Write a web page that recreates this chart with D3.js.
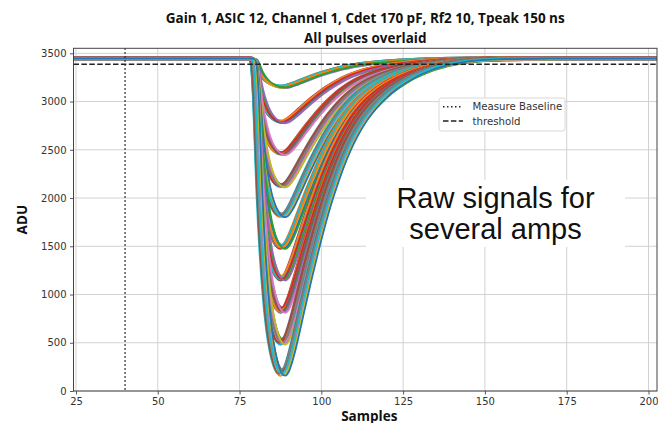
<!DOCTYPE html>
<html>
<head>
<meta charset="utf-8">
<script src="https://cdn.jsdelivr.net/npm/d3@7"></script>
<style>
  html, body { margin: 0; padding: 0; background: #fff; }
  svg { display: block; }
</style>
</head>
<body>
<svg id="chart" width="658" height="423"></svg>
<script>
// ---------------- data ----------------
const titleLines = ["Gain 1, ASIC 12, Channel 1, Cdet 170 pF, Rf2 10, Tpeak 150 ns", "All pulses overlaid"];
const xTicks = [25, 50, 75, 100, 125, 150, 175, 200];
const yTicks = [0, 500, 1000, 1500, 2000, 2500, 3000, 3500];
const xLabel = "Samples";
const yLabel = "ADU";

const baselineADU = 3446;        // flat level before / after pulse
const thresholdADU = 3386;       // dashed line
const measureBaselineSample = 40; // dotted vertical line

// normalised pulse shape (fraction of pulse depth) at sample positions
const shapeSamples = [20, 70, 78, 78.5, 79, 79.5, 80, 80.5, 81, 81.5, 82, 83, 84, 85, 86, 87, 88, 89, 90, 91, 92, 94, 96, 98, 100, 102, 104, 106, 108, 110, 113, 116, 119, 122, 125, 128, 131, 134, 137, 140, 144, 148, 155, 165, 175, 210];
const shapeValues  = [0, 0, 0, 0.002, 0.008, 0.045, 0.14, 0.28, 0.42, 0.53, 0.62, 0.76, 0.86, 0.925, 0.968, 0.993, 1.0, 0.99, 0.962, 0.925, 0.882, 0.79, 0.7, 0.615, 0.535, 0.462, 0.398, 0.34, 0.29, 0.247, 0.195, 0.155, 0.123, 0.097, 0.076, 0.058, 0.044, 0.032, 0.023, 0.016, 0.009, 0.005, 0.002, 0.001, 0, 0];

// minimum ADU reached by each amplitude group
const groupMinima = [3152, 2786, 2456, 2122, 1815, 1488, 1163, 830, 503, 184];

// per-pulse variations inside a group (timing in samples, gain, baseline ADU)
const pulseDelays = [-0.9, 0.35, -0.45, 0.8, -0.15, 0.55, -0.7, 0.1, -0.3, 0.65, -0.05, 0.95];
const pulseGains  = [1.006, 0.994, 1.01, 0.998, 1.002, 0.99, 1.004, 0.996, 0.992, 1.0, 1.003, 1.008];
const pulseBaseOffsets = [12, -8, 4, -14, 15, -3, 8, -11, 13, -6, 5, 0];

const legendItems = [
  { label: "Measure Baseline", dash: "1.5,2.5" },
  { label: "threshold", dash: "5.5,2.4" }
];
const annotationLines = ["Raw signals for", "several amps"];

const palette = ["#1f77b4", "#ff7f0e", "#2ca02c", "#d62728", "#9467bd", "#8c564b", "#e377c2", "#7f7f7f", "#bcbd22", "#17becf"];
const colorOffset = 1;

// ---------------- layout ----------------
const svg = d3.select("#chart");
const margin = { left: 73.5, right: 1, top: 48.3, bottom: 32 };
const W = 658, H = 423;
const plotL = margin.left, plotR = W - margin.right, plotT = margin.top, plotB = H - margin.bottom;

const x = d3.scaleLinear().domain([24.24, 202.6]).range([plotL, plotR]);
const y = d3.scaleLinear().domain([0, 3552]).range([plotB, plotT]);

const tickFont = "'DejaVu Sans', sans-serif";
const boldFont = "'Open Sans', 'Noto Sans', sans-serif";

// grid
const grid = svg.append("g");
grid.selectAll(".gx").data(xTicks).enter().append("line")
  .attr("x1", d => x(d)).attr("x2", d => x(d))
  .attr("y1", plotT).attr("y2", plotB)
  .attr("stroke", "#d2d2d2").attr("stroke-width", 1);
grid.selectAll(".gy").data(yTicks).enter().append("line")
  .attr("x1", plotL).attr("x2", plotR)
  .attr("y1", d => y(d)).attr("y2", d => y(d))
  .attr("stroke", "#d2d2d2").attr("stroke-width", 1);

// clip
svg.append("clipPath").attr("id", "clip").append("rect")
  .attr("x", plotL).attr("y", plotT).attr("width", plotR - plotL).attr("height", plotB - plotT);

// pulses
const line = d3.line().x(d => x(d[0])).y(d => y(d[1])).curve(d3.curveMonotoneX);
const pulses = [];
groupMinima.forEach((minADU, g) => {
  pulseDelays.forEach((delay, k) => {
    const base = baselineADU + pulseBaseOffsets[k];
    const depth = (baselineADU - minADU) * pulseGains[k];
    pulses.push(shapeSamples.map((s, i) => [s + delay, base - depth * shapeValues[i]]));
  });
});
const pg = svg.append("g").attr("clip-path", "url(#clip)");
pg.selectAll("path").data(pulses).enter().append("path")
  .attr("d", line)
  .attr("fill", "none")
  .attr("stroke", (d, i) => palette[(i + colorOffset) % palette.length])
  .attr("stroke-width", 1.7)
  .attr("stroke-linejoin", "round");

// reference lines
const refs = svg.append("g").attr("clip-path", "url(#clip)");
refs.append("line")
  .attr("x1", x(measureBaselineSample)).attr("x2", x(measureBaselineSample))
  .attr("y1", plotT).attr("y2", plotB)
  .attr("stroke", "#222").attr("stroke-width", 1.5).attr("stroke-dasharray", legendItems[0].dash);
refs.append("line")
  .attr("x1", plotL).attr("x2", plotR)
  .attr("y1", y(thresholdADU)).attr("y2", y(thresholdADU))
  .attr("stroke", "#222").attr("stroke-width", 1.5).attr("stroke-dasharray", legendItems[1].dash);

// axes
const xAxis = d3.axisBottom(x).tickValues(xTicks).tickSize(3.5).tickPadding(3.5).tickFormat(d3.format("d"));
const yAxis = d3.axisLeft(y).tickValues(yTicks).tickSize(3.5).tickPadding(3.5).tickFormat(d3.format("d"));
const gx = svg.append("g").attr("transform", `translate(0,${plotB})`).call(xAxis);
const gy = svg.append("g").attr("transform", `translate(${plotL},0)`).call(yAxis);
[gx, gy].forEach(g => {
  g.select(".domain").remove();
  g.selectAll(".tick line").attr("stroke", "#444").attr("stroke-width", 0.9);
  g.selectAll(".tick text").attr("fill", "#333").style("font-family", tickFont).style("font-size", "10px");
});

// frame
svg.append("rect").attr("x", plotL).attr("y", plotT)
  .attr("width", plotR - plotL).attr("height", plotB - plotT)
  .attr("fill", "none").attr("stroke", "#444").attr("stroke-width", 1);

// legend
const lg = svg.append("g").attr("transform", "translate(439,98)");
lg.append("rect").attr("width", 126).attr("height", 33).attr("rx", 2.5)
  .attr("fill", "rgba(255,255,255,0.85)").attr("stroke", "#d8d8d8").attr("stroke-width", 1);
legendItems.forEach((it, i) => {
  const yy = 8.7 + i * 14.3;
  lg.append("line").attr("x1", 4).attr("x2", 24).attr("y1", yy).attr("y2", yy)
    .attr("stroke", "#222").attr("stroke-width", 1.5).attr("stroke-dasharray", it.dash);
  lg.append("text").attr("x", 33.5).attr("y", yy).attr("dy", "0.35em")
    .style("font-family", tickFont).style("font-size", "10.2px").attr("fill", "#333").text(it.label);
});

// annotation with white box
const ann = svg.append("g");
ann.append("rect").attr("x", 366).attr("y", 180).attr("width", 259).attr("height", 67).attr("fill", "#fff");
annotationLines.forEach((t, i) => {
  ann.append("text").attr("x", 495.5).attr("y", 207.5 + i * 31)
    .attr("text-anchor", "middle")
    .style("font-family", "'Liberation Sans', Arial, sans-serif").style("font-size", "29px")
    .attr("fill", "#111").text(t);
});

// titles
titleLines.forEach((t, i) => {
  svg.append("text").attr("x", (plotL + plotR) / 2).attr("y", 22.5 + i * 20)
    .attr("text-anchor", "middle")
    .style("font-family", boldFont).style("font-weight", "bold").style("font-size", "13.5px")
    .attr("fill", "#111").text(t);
});

// axis labels
svg.append("text").attr("x", (plotL + plotR) / 2 + 4).attr("y", 420.5)
  .attr("text-anchor", "middle")
  .style("font-family", boldFont).style("font-weight", "bold").style("font-size", "13.5px")
  .attr("fill", "#111").text(xLabel);
svg.append("text").attr("transform", `translate(27,${(plotT + plotB) / 2}) rotate(-90)`)
  .attr("text-anchor", "middle")
  .style("font-family", boldFont).style("font-weight", "bold").style("font-size", "13.5px")
  .attr("fill", "#111").text(yLabel);
</script>
</body>
</html>
